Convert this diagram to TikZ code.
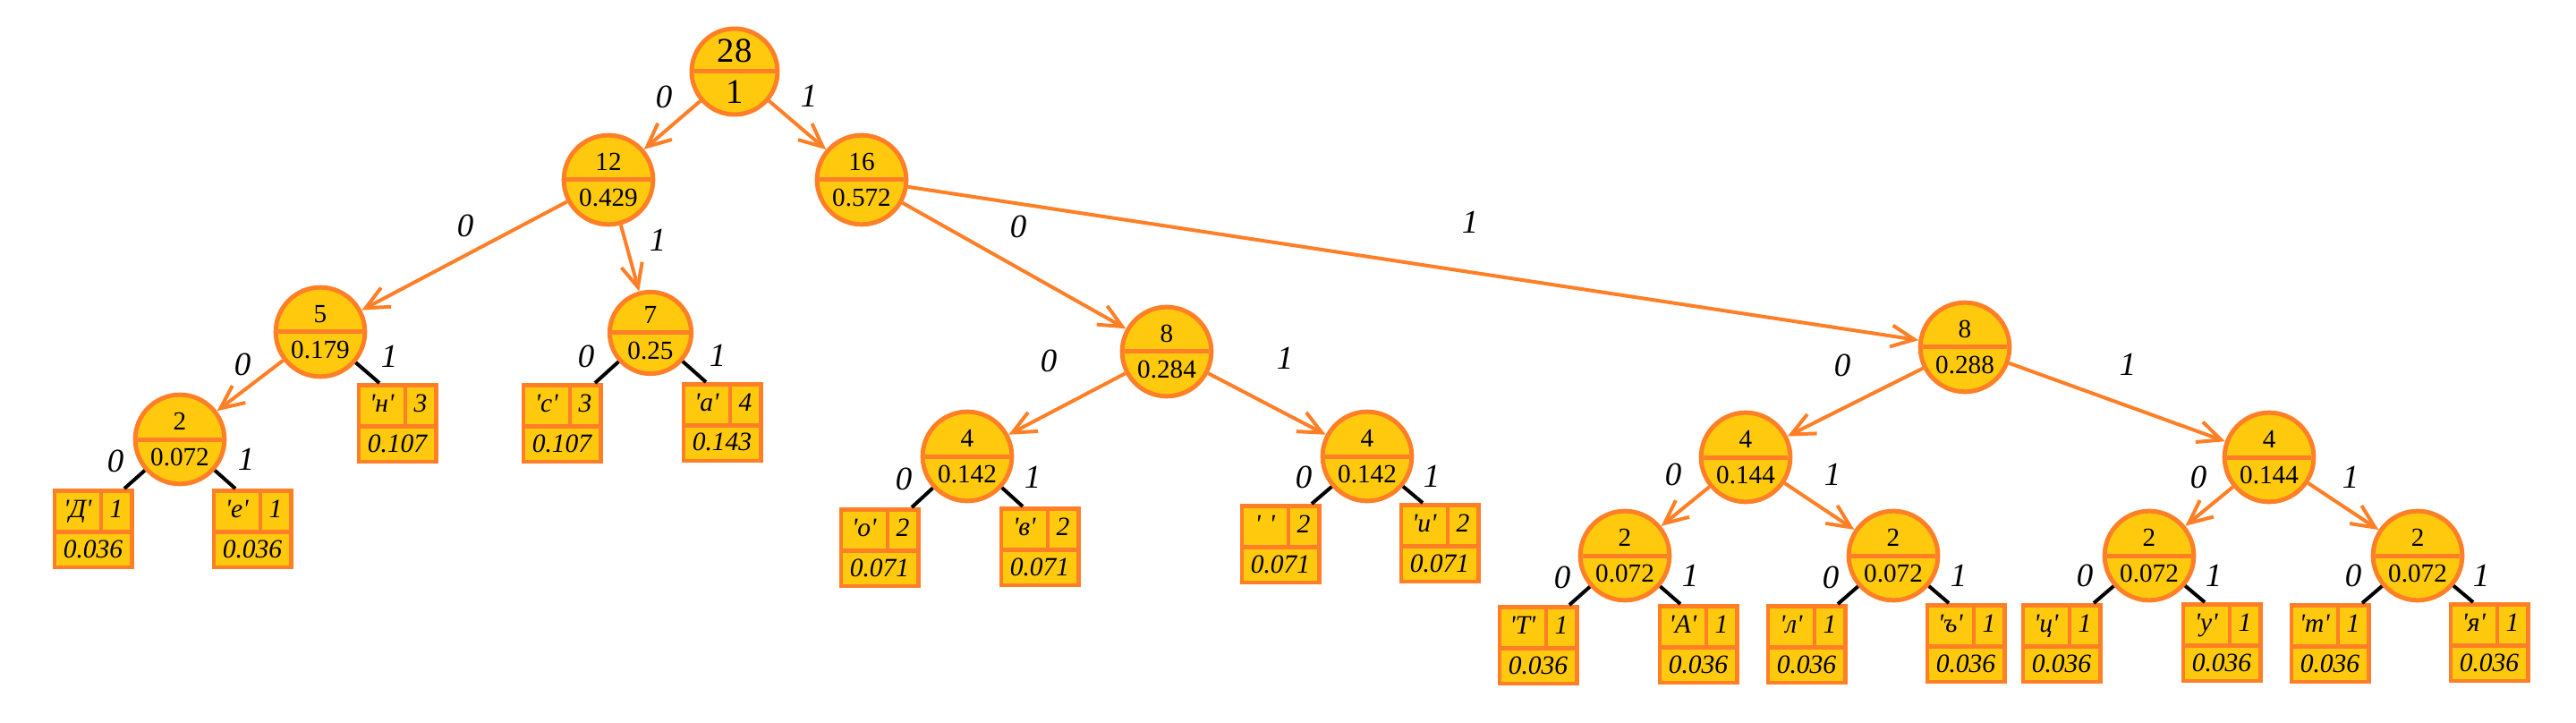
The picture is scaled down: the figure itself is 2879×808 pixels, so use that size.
\documentclass[tikz,border=0pt]{standalone}
\usepackage{fontspec}
\setmainfont{Liberation Serif}[Ligatures=TeXOff]
\usetikzlibrary{shapes.multipart,arrows.meta}
\definecolor{gold}{HTML}{FFC90E}
\definecolor{rim}{HTML}{FF7F27}

\begin{document}
\begin{tikzpicture}[x=0.1mm,y=-0.1mm,
    fork/.style={circle split,draw=rim,fill=gold,line width=0.5mm,
      inner xsep=0pt,inner ysep=2.2pt,
      minimum size=8.5mm,font=\fontsize{8.3}{10}\selectfont},
    bigfork/.style={fork,minimum size=9.5mm},
    leaf/.style={draw=rim,fill=gold,line width=0.45mm,inner sep=0pt,
      minimum width=8.65mm,minimum height=8.55mm,text width=8.65mm,align=center,
      font=\fontsize{8.4}{12.8}\selectfont\itshape,
      path picture={\draw[rim,line width=0.45mm]
        ([yshift=-4.6mm]path picture bounding box.north west)
        -- ([yshift=-4.6mm]path picture bounding box.north east)
        ([xshift=5.2mm]path picture bounding box.north west) -- ++(0,-4.6mm);}},
    hop/.style={draw=rim,line width=0.4mm,-{Straight Barb[length=2.6mm,width=2.4mm]}},
    twig/.style={draw=black,line width=0.4mm},
    bit/.style={inner sep=0pt,font=\fontsize{10.5}{12}\selectfont\itshape}]
    %frame
    \useasboundingbox (0,0) rectangle (2879,808);
    %inner nodes
    \node[bigfork,font=\fontsize{11}{13}\selectfont] (r) at (821,80) {28 \nodepart{lower} 1};
    \node[bigfork] (n12) at (680,201) {12 \nodepart{lower} 0.429};
    \node[bigfork] (n16) at (963,201) {16 \nodepart{lower} 0.572};
    \node[bigfork] (n5) at (358,371) {5 \nodepart{lower} 0.179};
    \node[fork] (n7) at (727,372) {7 \nodepart{lower} 0.25};
    \node[bigfork] (n8a) at (1304,393) {8 \nodepart{lower} 0.284};
    \node[bigfork] (n8b) at (2196,388) {8 \nodepart{lower} 0.288};
    \node[fork] (n2a) at (201,491) {2 \nodepart{lower} 0.072};
    \node[fork] (n4a) at (1081,510) {4 \nodepart{lower} 0.142};
    \node[fork] (n4b) at (1528,510) {4 \nodepart{lower} 0.142};
    \node[fork] (n4c) at (1951,511) {4 \nodepart{lower} 0.144};
    \node[fork] (n4d) at (2536,511) {4 \nodepart{lower} 0.144};
    \node[fork] (n2c) at (1816,621) {2 \nodepart{lower} 0.072};
    \node[fork] (n2d) at (2116,621) {2 \nodepart{lower} 0.072};
    \node[fork] (n2e) at (2402,621) {2 \nodepart{lower} 0.072};
    \node[fork] (n2f) at (2702,621) {2 \nodepart{lower} 0.072};
    %leaves
    \node[leaf] (lDe) at (104,591) {\makebox[5.2mm]{'Д'}\makebox[3.45mm]{1}\\0.036};
    \node[leaf] (lYe) at (282,591) {\makebox[5.2mm]{'е'}\makebox[3.45mm]{1}\\0.036};
    \node[leaf] (lN) at (444,473) {\makebox[5.2mm]{'н'}\makebox[3.45mm]{3}\\0.107};
    \node[leaf] (lS) at (628,473) {\makebox[5.2mm]{'с'}\makebox[3.45mm]{3}\\0.107};
    \node[leaf] (lA) at (807,472) {\makebox[5.2mm]{'а'}\makebox[3.45mm]{4}\\0.143};
    \node[leaf] (lO) at (983,612) {\makebox[5.2mm]{'о'}\makebox[3.45mm]{2}\\0.071};
    \node[leaf] (lV) at (1162,611) {\makebox[5.2mm]{'в'}\makebox[3.45mm]{2}\\0.071};
    \node[leaf] (lSp) at (1431,608) {\makebox[5.2mm]{' '}\makebox[3.45mm]{2}\\0.071};
    \node[leaf] (lI) at (1609,607) {\makebox[5.2mm]{'и'}\makebox[3.45mm]{2}\\0.071};
    \node[leaf] (lTT) at (1719,721) {\makebox[5.2mm]{'Т'}\makebox[3.45mm]{1}\\0.036};
    \node[leaf] (lAA) at (1898,720) {\makebox[5.2mm]{'А'}\makebox[3.45mm]{1}\\0.036};
    \node[leaf] (lL) at (2019,720) {\makebox[5.2mm]{'л'}\makebox[3.45mm]{1}\\0.036};
    \node[leaf] (lHd) at (2197,719) {\makebox[5.2mm]{'ъ'}\makebox[3.45mm]{1}\\0.036};
    \node[leaf] (lTs) at (2304,719) {\makebox[5.2mm]{'ц'}\makebox[3.45mm]{1}\\0.036};
    \node[leaf] (lU) at (2483,718) {\makebox[5.2mm]{'у'}\makebox[3.45mm]{1}\\0.036};
    \node[leaf] (lTe) at (2604,719) {\makebox[5.2mm]{'т'}\makebox[3.45mm]{1}\\0.036};
    \node[leaf] (lYa) at (2782,718) {\makebox[5.2mm]{'я'}\makebox[3.45mm]{1}\\0.036};
    %drawing
    \draw[hop] (r) -- (n12);   \draw[hop] (r) -- (n16);
    \draw[hop] (n12) -- (n5);  \draw[hop] (n12) -- (n7);
    \draw[hop] (n16) -- (n8a); \draw[hop] (n16) -- (n8b);
    \draw[hop] (n5) -- (n2a);
    \draw[hop] (n8a) -- (n4a); \draw[hop] (n8a) -- (n4b);
    \draw[hop] (n8b) -- (n4c); \draw[hop] (n8b) -- (n4d);
    \draw[hop] (n4c) -- (n2c); \draw[hop] (n4c) -- (n2d);
    \draw[hop] (n4d) -- (n2e); \draw[hop] (n4d) -- (n2f);
    \draw[twig] (n5) -- ([xshift=6.6mm]n5.center |- lN.north);
    \draw[twig] (n7) -- ([xshift=-6.2mm]n7.center |- lS.north);
    \draw[twig] (n7) -- ([xshift=6.2mm]n7.center |- lA.north);
    \draw[twig] (n2a) -- ([xshift=-6.2mm]n2a.center |- lDe.north);
    \draw[twig] (n2a) -- ([xshift=6.2mm]n2a.center |- lYe.north);
    \draw[twig] (n4a) -- ([xshift=-6.2mm]n4a.center |- lO.north);
    \draw[twig] (n4a) -- ([xshift=6.2mm]n4a.center |- lV.north);
    \draw[twig] (n4b) -- ([xshift=-6.2mm]n4b.center |- lSp.north);
    \draw[twig] (n4b) -- ([xshift=6.2mm]n4b.center |- lI.north);
    \draw[twig] (n2c) -- ([xshift=-6.2mm]n2c.center |- lTT.north);
    \draw[twig] (n2c) -- ([xshift=6.2mm]n2c.center |- lAA.north);
    \draw[twig] (n2d) -- ([xshift=-6.2mm]n2d.center |- lL.north);
    \draw[twig] (n2d) -- ([xshift=6.2mm]n2d.center |- lHd.north);
    \draw[twig] (n2e) -- ([xshift=-6.2mm]n2e.center |- lTs.north);
    \draw[twig] (n2e) -- ([xshift=6.2mm]n2e.center |- lU.north);
    \draw[twig] (n2f) -- ([xshift=-6.2mm]n2f.center |- lTe.north);
    \draw[twig] (n2f) -- ([xshift=6.2mm]n2f.center |- lYa.north);
    %label
    \node[bit] (b1) at (742,108) {0};   \node[bit] (b2) at (904,107) {1};
    \node[bit] (b3) at (520,252) {0};   \node[bit] (b4) at (735,268) {1};
    \node[bit] (b5) at (1138,253) {0};  \node[bit] (b6) at (1643,248) {1};
    \node[bit] (b7) at (271,407) {0};   \node[bit] (b8) at (435,398) {1};
    \node[bit] (b9) at (655,398) {0};   \node[bit] (b10) at (802,397) {1};
    \node[bit] (b11) at (129,515) {0};  \node[bit] (b12) at (275,513) {1};
    \node[bit] (b13) at (1172,403) {0}; \node[bit] (b14) at (1436,400) {1};
    \node[bit] (b15) at (1010,535) {0}; \node[bit] (b16) at (1154,533) {1};
    \node[bit] (b17) at (1457,533) {0}; \node[bit] (b18) at (1600,532) {1};
    \node[bit] (b19) at (2059,408) {0}; \node[bit] (b20) at (2378,407) {1};
    \node[bit] (b21) at (1870,530) {0}; \node[bit] (b22) at (2048,530) {1};
    \node[bit] (b23) at (2457,533) {0}; \node[bit] (b24) at (2627,533) {1};
    \node[bit] (b25) at (1746,645) {0}; \node[bit] (b26) at (1889,643) {1};
    \node[bit] (b27) at (2046,645) {0}; \node[bit] (b28) at (2189,643) {1};
    \node[bit] (b29) at (2330,643) {0}; \node[bit] (b30) at (2474,643) {1};
    \node[bit] (b31) at (2630,643) {0}; \node[bit] (b32) at (2773,643) {1};
\end{tikzpicture}
\end{document}
